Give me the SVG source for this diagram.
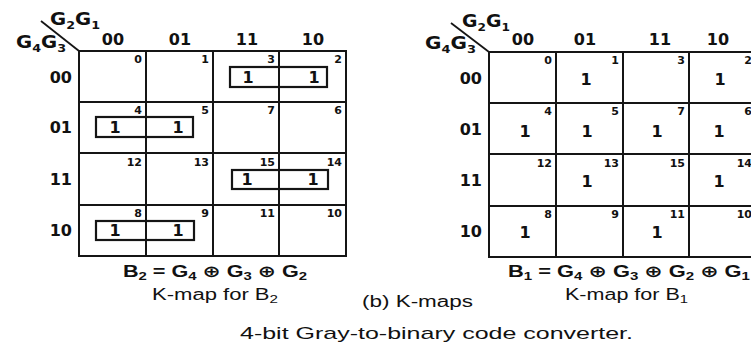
<svg xmlns="http://www.w3.org/2000/svg" width="751" height="347" viewBox="0 0 751 347">
  <style>
    .bg { fill: #ffffff; }
    .grid { fill: none; stroke: #151515; stroke-width: 2; }
    .grp { fill: none; stroke: #151515; stroke-width: 2.2; }
    .diag { stroke: #151515; stroke-width: 1.8; }
    text { font-family: "DejaVu Sans", "Liberation Sans", sans-serif; fill: #111; }
    .var { font-size: 17px; font-weight: bold; }
    .sub { font-size: 11px; }
    .hdr { font-size: 16px; font-weight: bold; text-anchor: middle; }
    .rhdr { font-size: 16px; font-weight: bold; text-anchor: end; }
    .idx { font-size: 11px; font-weight: bold; text-anchor: end; }
    .one { font-size: 16px; font-weight: bold; text-anchor: middle; }
    .eq { font-family: "Liberation Sans", "DejaVu Sans", sans-serif; font-size: 16px; font-weight: bold; }
    .cap { font-family: "Liberation Sans", "DejaVu Sans", sans-serif; font-size: 16px; font-weight: 500; }
    .title { font-family: "Liberation Sans", "DejaVu Sans", sans-serif; font-size: 17px; }
  </style>

  <rect class="bg" x="0" y="0" width="751" height="347"/>

  <!-- K-map for B2 -->
  <g id="kmap-b2">
    <g id="kmap-b2-grid">
      <rect class="grid" x="79" y="51" width="267" height="205"/>
      <line class="grid" x1="146" y1="51" x2="146" y2="256"/>
      <line class="grid" x1="213" y1="51" x2="213" y2="256"/>
      <line class="grid" x1="279" y1="51" x2="279" y2="256"/>
      <line class="grid" x1="79" y1="102" x2="346" y2="102"/>
      <line class="grid" x1="79" y1="153" x2="346" y2="153"/>
      <line class="grid" x1="79" y1="205" x2="346" y2="205"/>
      <line class="diag" x1="41" y1="21" x2="79" y2="51"/>
    </g>
    <g id="kmap-b2-vars">
      <text class="var" x="50" y="25" textLength="50" lengthAdjust="spacingAndGlyphs">G<tspan class="sub" dy="4">2</tspan><tspan dy="-4">G</tspan><tspan class="sub" dy="4">1</tspan></text>
      <text class="var" x="16" y="48" textLength="50" lengthAdjust="spacingAndGlyphs">G<tspan class="sub" dy="4">4</tspan><tspan dy="-4">G</tspan><tspan class="sub" dy="4">3</tspan></text>
      <text class="hdr" x="113" y="45">00</text>
      <text class="hdr" x="180" y="45">01</text>
      <text class="hdr" x="247" y="45">11</text>
      <text class="hdr" x="313" y="45">10</text>
      <text class="rhdr" x="72" y="83">00</text>
      <text class="rhdr" x="72" y="133">01</text>
      <text class="rhdr" x="72" y="185">11</text>
      <text class="rhdr" x="72" y="236">10</text>
    </g>
    <g id="kmap-b2-index">
      <text class="idx" x="142" y="63">0</text>
      <text class="idx" x="209" y="63">1</text>
      <text class="idx" x="275" y="63">3</text>
      <text class="idx" x="342" y="63">2</text>
      <text class="idx" x="142" y="114">4</text>
      <text class="idx" x="209" y="114">5</text>
      <text class="idx" x="275" y="114">7</text>
      <text class="idx" x="342" y="114">6</text>
      <text class="idx" x="142" y="166">12</text>
      <text class="idx" x="209" y="166">13</text>
      <text class="idx" x="275" y="166">15</text>
      <text class="idx" x="342" y="166">14</text>
      <text class="idx" x="142" y="217">8</text>
      <text class="idx" x="209" y="217">9</text>
      <text class="idx" x="275" y="217">11</text>
      <text class="idx" x="342" y="217">10</text>
    </g>
    <g id="kmap-b2-ones">
      <text class="one" x="248" y="83">1</text>
      <text class="one" x="314" y="83">1</text>
      <text class="one" x="115" y="133">1</text>
      <text class="one" x="178" y="133">1</text>
      <text class="one" x="247" y="185">1</text>
      <text class="one" x="313" y="185">1</text>
      <text class="one" x="115" y="236">1</text>
      <text class="one" x="178" y="236">1</text>
    </g>
    <g id="kmap-b2-groups">
      <rect class="grp" x="230" y="67" width="97" height="20"/>
      <rect class="grp" x="96" y="117" width="97" height="20"/>
      <rect class="grp" x="232" y="170" width="96" height="19"/>
      <rect class="grp" x="96" y="221" width="98" height="19"/>
    </g>
    <g id="kmap-b2-caption">
      <text class="eq" x="123" y="277" textLength="184" lengthAdjust="spacingAndGlyphs">B<tspan class="sub" dy="3">2</tspan><tspan dy="-3"> = G</tspan><tspan class="sub" dy="3">4</tspan><tspan dy="-3"> ⊕ G</tspan><tspan class="sub" dy="3">3</tspan><tspan dy="-3"> ⊕ G</tspan><tspan class="sub" dy="3">2</tspan></text>
      <text class="cap" x="152" y="300" textLength="126" lengthAdjust="spacingAndGlyphs">K-map for B<tspan class="sub" dy="3">2</tspan></text>
    </g>
  </g>

  <!-- K-map for B1 -->
  <g id="kmap-b1">
    <g id="kmap-b1-grid">
      <rect class="grid" x="489" y="52" width="267" height="205"/>
      <line class="grid" x1="556" y1="52" x2="556" y2="257"/>
      <line class="grid" x1="623" y1="52" x2="623" y2="257"/>
      <line class="grid" x1="689" y1="52" x2="689" y2="257"/>
      <line class="grid" x1="489" y1="103" x2="756" y2="103"/>
      <line class="grid" x1="489" y1="154" x2="756" y2="154"/>
      <line class="grid" x1="489" y1="206" x2="756" y2="206"/>
      <line class="diag" x1="451" y1="23" x2="489" y2="52"/>
    </g>
    <g id="kmap-b1-vars">
      <text class="var" x="462" y="27" textLength="48" lengthAdjust="spacingAndGlyphs">G<tspan class="sub" dy="4">2</tspan><tspan dy="-4">G</tspan><tspan class="sub" dy="4">1</tspan></text>
      <text class="var" x="425" y="49" textLength="51" lengthAdjust="spacingAndGlyphs">G<tspan class="sub" dy="4">4</tspan><tspan dy="-4">G</tspan><tspan class="sub" dy="4">3</tspan></text>
      <text class="hdr" x="523" y="45">00</text>
      <text class="hdr" x="585" y="45">01</text>
      <text class="hdr" x="660" y="45">11</text>
      <text class="hdr" x="718" y="45">10</text>
      <text class="rhdr" x="482" y="84">00</text>
      <text class="rhdr" x="482" y="135">01</text>
      <text class="rhdr" x="482" y="186">11</text>
      <text class="rhdr" x="482" y="237">10</text>
    </g>
    <g id="kmap-b1-index">
      <text class="idx" x="552" y="64">0</text>
      <text class="idx" x="619" y="64">1</text>
      <text class="idx" x="685" y="64">3</text>
      <text class="idx" x="752" y="64">2</text>
      <text class="idx" x="552" y="115">4</text>
      <text class="idx" x="619" y="115">5</text>
      <text class="idx" x="685" y="115">7</text>
      <text class="idx" x="752" y="115">6</text>
      <text class="idx" x="552" y="167">12</text>
      <text class="idx" x="619" y="167">13</text>
      <text class="idx" x="685" y="167">15</text>
      <text class="idx" x="752" y="167">14</text>
      <text class="idx" x="552" y="218">8</text>
      <text class="idx" x="619" y="218">9</text>
      <text class="idx" x="685" y="218">11</text>
      <text class="idx" x="752" y="218">10</text>
    </g>
    <g id="kmap-b1-ones">
      <text class="one" x="586" y="85">1</text>
      <text class="one" x="720" y="85">1</text>
      <text class="one" x="525" y="137">1</text>
      <text class="one" x="587" y="137">1</text>
      <text class="one" x="657" y="137">1</text>
      <text class="one" x="719" y="137">1</text>
      <text class="one" x="587" y="187">1</text>
      <text class="one" x="719" y="187">1</text>
      <text class="one" x="525" y="238">1</text>
      <text class="one" x="657" y="238">1</text>
    </g>
    <g id="kmap-b1-caption">
      <text class="eq" x="508" y="277" textLength="242" lengthAdjust="spacingAndGlyphs">B<tspan class="sub" dy="3">1</tspan><tspan dy="-3"> = G</tspan><tspan class="sub" dy="3">4</tspan><tspan dy="-3"> ⊕ G</tspan><tspan class="sub" dy="3">3</tspan><tspan dy="-3"> ⊕ G</tspan><tspan class="sub" dy="3">2</tspan><tspan dy="-3"> ⊕ G</tspan><tspan class="sub" dy="3">1</tspan></text>
      <text class="cap" x="565" y="300" textLength="123" lengthAdjust="spacingAndGlyphs">K-map for B<tspan class="sub" dy="3">1</tspan></text>
    </g>
  </g>

  <!-- figure captions -->
  <g id="captions">
    <text class="cap" x="362" y="307" textLength="111" lengthAdjust="spacingAndGlyphs">(b) K-maps</text>
    <text class="title" x="240" y="339" textLength="393" lengthAdjust="spacingAndGlyphs">4-bit Gray-to-binary code converter.</text>
  </g>
</svg>
